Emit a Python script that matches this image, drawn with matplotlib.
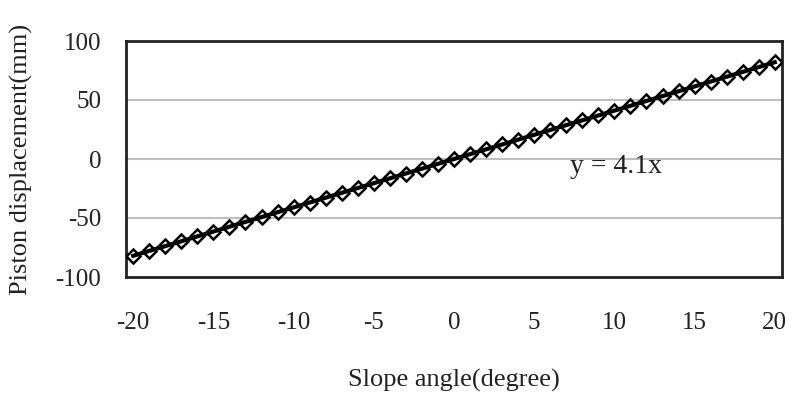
import matplotlib.pyplot as plt

# slope angle (degree) and measured piston displacement (mm)
angle = list(range(-20, 21))
displacement = [-82.0, -77.9, -73.8, -69.7, -65.6, -61.5, -57.4, -53.3, -49.2, -45.1,
                -41.0, -36.9, -32.8, -28.7, -24.6, -20.5, -16.4, -12.3, -8.2, -4.1,
                0.0, 4.1, 8.2, 12.3, 16.4, 20.5, 24.6, 28.7, 32.8, 36.9,
                41.0, 45.1, 49.2, 53.3, 57.4, 61.5, 65.6, 69.7, 73.8, 77.9, 82.0]
fit_x = [-20, 20]
fit_y = [-82.0, 82.0]
x_ticks = [-20, -15, -10, -5, 0, 5, 10, 15, 20]
y_ticks = [-100, -50, 0, 50, 100]

plt.rcParams['font.family'] = ['Liberation Serif', 'DejaVu Serif']
plt.rcParams['axes.unicode_minus'] = False

fig = plt.figure(figsize=(7.93, 3.98), dpi=100)
ax = fig.add_axes([126 / 793, 1 - 277 / 398, 656 / 793, 236 / 398])

# light gray horizontal gridlines
for y in [-50, 0, 50]:
    ax.axhline(y, color='#bfbfbf', lw=1.5, zorder=0)

# linear trend line + measured points
ax.plot(fit_x, fit_y, color='black', lw=3, zorder=2)
ax.plot(angle, displacement, color='black', lw=1.5, marker='D', markersize=7,
        markerfacecolor='none', markeredgecolor='black', markeredgewidth=1.8, zorder=3)

ax.text(10.1, -6, 'y = 4.1x', fontsize=20, ha='center', va='center', color='#222222')

ax.set_xlim(-20.45, 20.45)
ax.set_ylim(-100, 100)
ax.set_xticks(x_ticks)
ax.set_yticks(y_ticks)
ax.tick_params(axis='both', length=0, labelsize=18, colors='#222222')
ax.tick_params(axis='x', pad=25)
ax.tick_params(axis='y', pad=18)

for s in ax.spines.values():
    s.set_linewidth(2)
    s.set_color('#222222')

ax.set_xlabel('Slope angle(degree)', fontsize=19, labelpad=25, color='#222222')
ax.set_ylabel('Piston displacement(mm)', fontsize=19, labelpad=16, color='#222222')

fig.savefig('out.png', dpi=100)
